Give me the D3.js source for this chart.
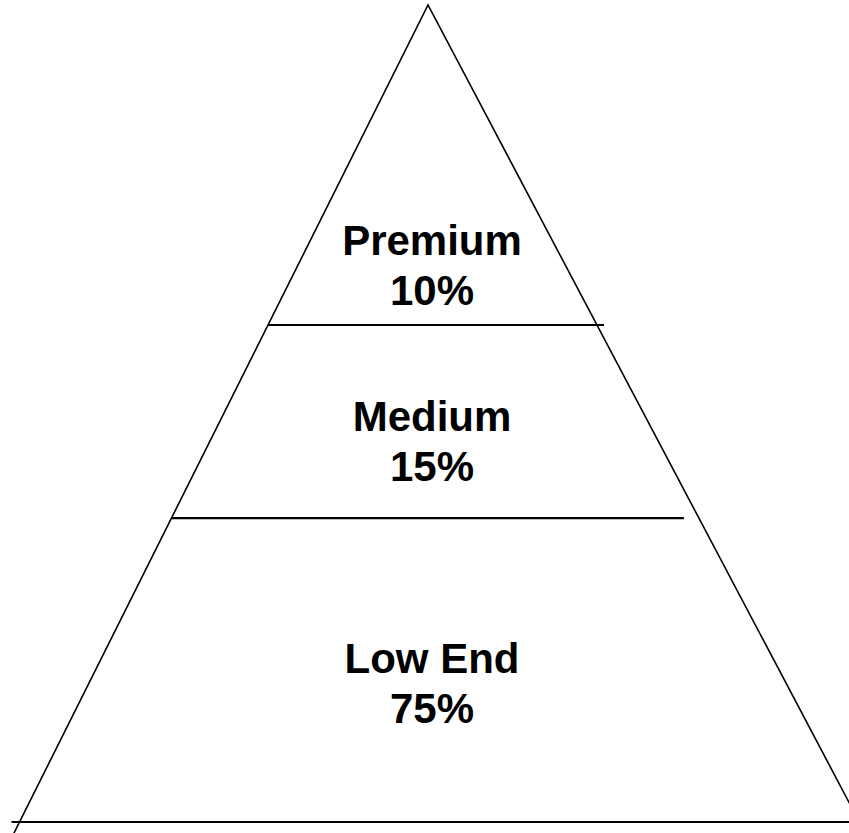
<!DOCTYPE html>
<html>
<head>
<meta charset="utf-8">
<script src="https://cdn.jsdelivr.net/npm/d3@7"></script>
<style>
  html, body { margin: 0; padding: 0; background: #ffffff; }
  svg { display: block; }
</style>
</head>
<body>
<svg id="chart" width="849" height="833"></svg>
<script>
// ---- data ----
const tiers = ["Premium", "Medium", "Low End"];
const shares = [10, 15, 75];
const shareLabels = ["10%", "15%", "75%"];

// ---- layout ----
const W = 849, H = 833;
const apex = { x: 428, y: 5 };
const baseY = 822;
const leftSlope = 0.5, rightSlope = 0.528;     // horizontal px per vertical px
// tier boundaries as fraction of pyramid depth (visual layout of the diagram)
const bounds = [0, 0.3917, 0.628, 1];

const svg = d3.select("#chart");
const y = d3.scaleLinear().domain([0, 1]).range([apex.y, baseY]);
const leftX = yy => apex.x - leftSlope * (yy - apex.y);
const rightX = yy => apex.x + rightSlope * (yy - apex.y);

// triangle outline (extends past the bottom edge, clipped by the viewport)
const extY = H + 10;
svg.append("path")
  .attr("d", d3.line()([[leftX(extY), extY], [apex.x, apex.y], [rightX(extY), extY]]))
  .attr("fill", "none")
  .attr("stroke", "#000")
  .attr("stroke-width", 1.6)
  .attr("stroke-linejoin", "miter");

// separator lines
const sepExt = [
  { l: 0, r: 7 },
  { l: 0, r: -15 },
  { l: -8, r: 40 }
];
bounds.slice(1).forEach((b, i) => {
  const yy = y(b);
  svg.append("line")
    .attr("x1", leftX(yy) + sepExt[i].l)
    .attr("x2", rightX(yy) + sepExt[i].r)
    .attr("y1", yy).attr("y2", yy)
    .attr("stroke", "#000")
    .attr("stroke-width", 2.2);
});

// labels
const labelBaselines = [255, 431, 673];
const cx = 432;
tiers.forEach((t, i) => {
  const g = svg.append("text")
    .attr("text-anchor", "middle")
    .attr("font-family", "Liberation Sans, Arial, sans-serif")
    .attr("font-weight", "bold")
    .attr("font-size", 42)
    .attr("fill", "#000");
  g.append("tspan").attr("x", cx).attr("y", labelBaselines[i]).text(t);
  g.append("tspan").attr("x", cx).attr("y", labelBaselines[i] + 50).text(shareLabels[i]);
});
</script>
</body>
</html>
